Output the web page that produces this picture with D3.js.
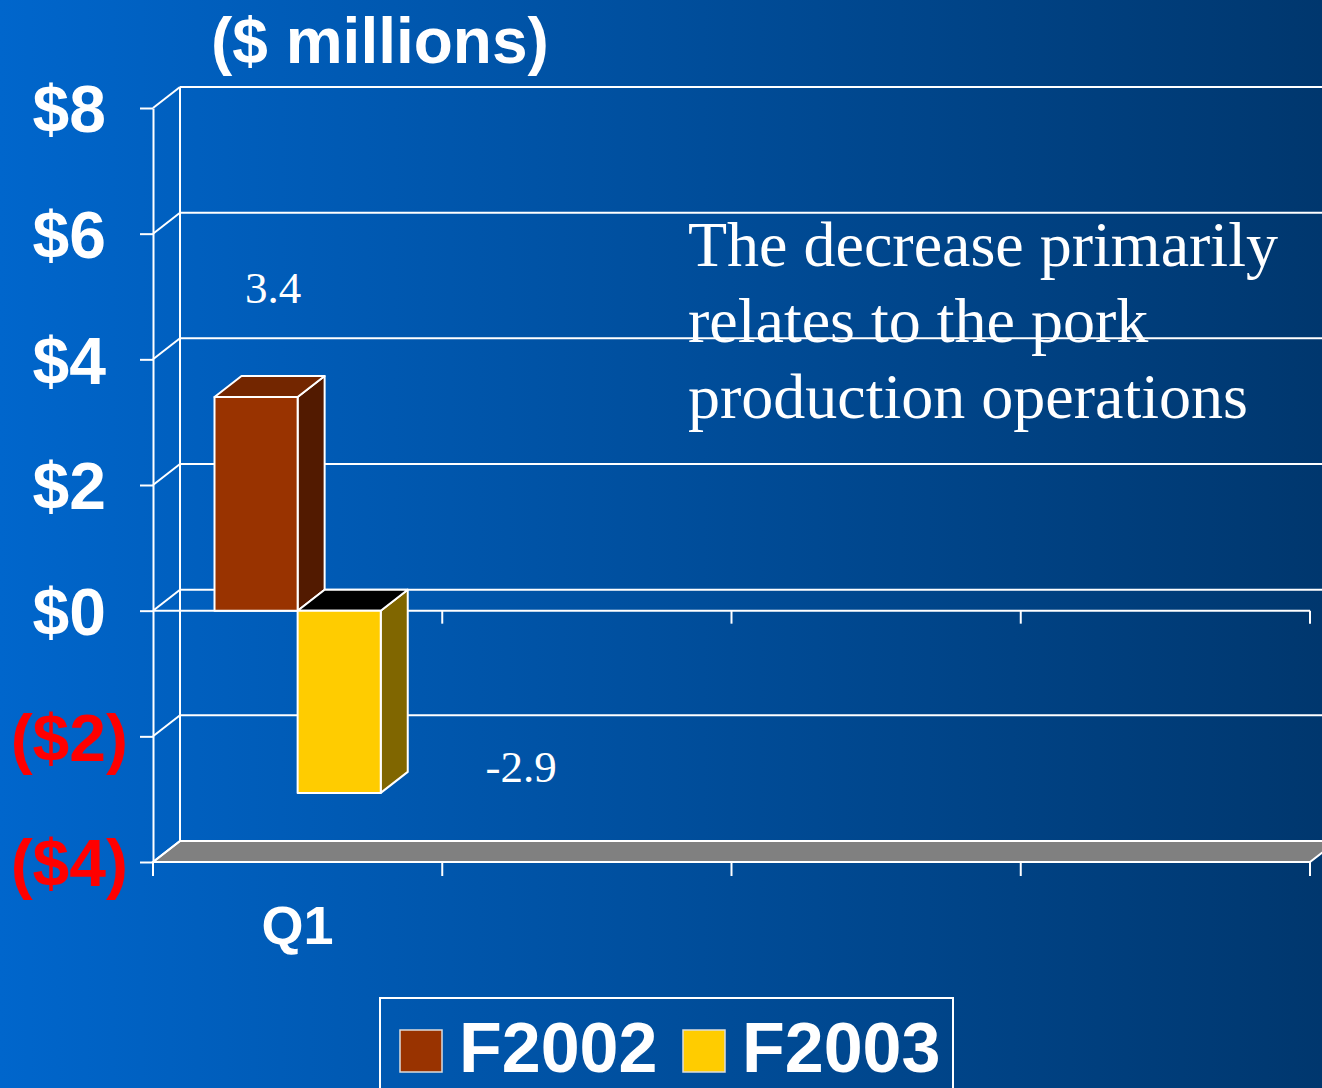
<!DOCTYPE html>
<html>
<head>
<meta charset="utf-8">
<script src="https://cdn.jsdelivr.net/npm/d3@7"></script>
<style>
  html, body { margin: 0; padding: 0; overflow: hidden; }
  svg { display: block; }
</style>
</head>
<body>
<svg id="svg"></svg>
<script>
var width = 1322;
var height = 1088;

// data
const categories = ["Q1", "Q2", "Q3", "Q4"];
const categoryLabels = ["Q1", "", "", ""];
const seriesNames = ["F2002", "F2003"];
const f2002 = [3.4, null, null, null];
const f2003 = [-2.9, null, null, null];
const tickValues = [-4, -2, 0, 2, 4, 6, 8];
const tickLabels = ["($4)", "($2)", "$0", "$2", "$4", "$6", "$8"];
const noteLines = ["The decrease primarily", "relates to the pork", "production operations"];

const seriesValues = [f2002, f2003];
const frontColor = ["#993300", "#ffcc00"];
const sideColor = ["#521a00", "#806600"];
const topColor = ["#732600", "#000000"];

// 3d depth offset
const dx = 27, dy = -21;

var svg = d3.select("#svg")
    .attr("width", width)
    .attr("height", height)
    .attr("viewBox", [0, 0, width, height]);

var defs = svg.append("defs");
var grad = defs.append("linearGradient").attr("id", "bg")
    .attr("x1", "0%").attr("x2", "100%").attr("y1", "0%").attr("y2", "0%");
grad.append("stop").attr("offset", "0%").attr("stop-color", "#0066cc");
grad.append("stop").attr("offset", "100%").attr("stop-color", "#00376e");

svg.append("rect").attr("width", width).attr("height", height).attr("fill", "url(#bg)");

var y = d3.scaleLinear().domain([-4, 8]).range([862, 108]);
var x = d3.scaleBand().domain(categories).range([153, 1310]);
var x1 = d3.scaleBand().domain(seriesNames).range([0, x.bandwidth()]).paddingInner(0).paddingOuter(0.74);

var frame = svg.append("g").attr("stroke", "#fff").attr("stroke-width", 2).attr("fill", "none");

// floor
var yb = y(-4);
frame.append("polygon")
    .attr("points", [[x.range()[0], yb], [x.range()[1], yb], [x.range()[1] + dx, yb + dy], [x.range()[0] + dx, yb + dy]].join(" "))
    .attr("fill", "#808080");

// back wall gridlines
frame.selectAll(".grid")
  .data(tickValues.filter(d => d !== -4))
  .join("line")
    .attr("x1", x.range()[0] + dx).attr("x2", x.range()[1] + dx)
    .attr("y1", d => y(d) + dy).attr("y2", d => y(d) + dy);

// back wall left edge
frame.append("line")
    .attr("x1", x.range()[0] + dx).attr("x2", x.range()[0] + dx)
    .attr("y1", y(8) + dy).attr("y2", y(-4) + dy);

// side wall diagonals
frame.selectAll(".diag")
  .data(tickValues)
  .join("line")
    .attr("x1", x.range()[0]).attr("x2", x.range()[0] + dx)
    .attr("y1", d => y(d)).attr("y2", d => y(d) + dy);

// front value axis
var yAxis = svg.append("g")
    .attr("transform", `translate(${x.range()[0]},0)`)
    .call(d3.axisLeft(y).tickValues(tickValues).tickSizeInner(13).tickSizeOuter(0).tickPadding(12));
yAxis.select(".domain").attr("stroke", "#fff").attr("stroke-width", 2);
yAxis.selectAll(".tick line").attr("stroke", "#fff").attr("stroke-width", 2);
yAxis.selectAll(".tick text")
    .attr("font-family", "Liberation Sans, Arial, sans-serif")
    .attr("font-weight", "bold")
    .attr("font-size", 66)
    .attr("dy", "0.36em")
    .attr("fill", (d, i) => tickValues[i] < 0 ? "#ff0000" : "#fff")
    .text(null)
    .each(function(d, i) {
      var t = d3.select(this);
      var lab = tickLabels[i];
      t.append("tspan").text(lab);
      if (!lab.endsWith(")")) t.append("tspan").attr("fill-opacity", 0).text(")");
    });

// category axis on floor front + zero line
var cats = svg.append("g").attr("stroke", "#fff").attr("stroke-width", 2);
cats.append("line")
    .attr("x1", x.range()[0]).attr("x2", x.range()[1])
    .attr("y1", y(-4)).attr("y2", y(-4));
cats.append("line")
    .attr("x1", x.range()[0]).attr("x2", x.range()[1])
    .attr("y1", y(0)).attr("y2", y(0));
var bounds = categories.map(c => x(c)).concat([x.range()[1]]);
cats.selectAll(".ctick")
  .data(bounds)
  .join("line")
    .attr("x1", d => d).attr("x2", d => d)
    .attr("y1", y(-4)).attr("y2", y(-4) + 14);
cats.selectAll(".ztick")
  .data(bounds.slice(1))
  .join("line")
    .attr("x1", d => d).attr("x2", d => d)
    .attr("y1", y(0)).attr("y2", y(0) + 13);

svg.append("g")
  .selectAll("text")
  .data(categories)
  .join("text")
    .attr("x", d => x(d) + x.bandwidth() / 2)
    .attr("y", 944)
    .attr("text-anchor", "middle")
    .attr("font-family", "Liberation Sans, Arial, sans-serif")
    .attr("font-weight", "bold")
    .attr("font-size", 54)
    .attr("fill", "#fff")
    .text((d, i) => categoryLabels[i]);

// bars
var barData = [];
seriesNames.forEach((s, si) => {
  categories.forEach((c, ci) => {
    var v = seriesValues[si][ci];
    if (v !== null) barData.push({series: s, si: si, cat: c, value: v});
  });
});

var bars = svg.append("g")
    .attr("stroke", "#fff").attr("stroke-width", 2).attr("stroke-linejoin", "round")
  .selectAll("g")
  .data(barData)
  .join("g");

bars.each(function(d) {
  var g = d3.select(this);
  var x0 = x(d.cat) + x1(d.series);
  var w = x1.bandwidth();
  var yt = y(Math.max(d.value, 0));
  var ybt = y(Math.min(d.value, 0));
  g.append("polygon")
      .attr("points", [[x0 + w, yt], [x0 + w + dx, yt + dy], [x0 + w + dx, ybt + dy], [x0 + w, ybt]].join(" "))
      .attr("fill", sideColor[d.si]);
  g.append("polygon")
      .attr("points", [[x0, yt], [x0 + dx, yt + dy], [x0 + w + dx, yt + dy], [x0 + w, yt]].join(" "))
      .attr("fill", topColor[d.si]);
  g.append("rect")
      .attr("x", x0).attr("y", yt)
      .attr("width", w).attr("height", ybt - yt)
      .attr("fill", frontColor[d.si]);
});

// data labels (moved by hand in the original)
const labelShift = [[17, -94], [182, -11]];
svg.append("g")
  .selectAll("text")
  .data(barData)
  .join("text")
    .attr("x", d => x(d.cat) + x1(d.series) + x1.bandwidth() / 2 + labelShift[d.si][0])
    .attr("y", d => y(d.value) + labelShift[d.si][1])
    .attr("text-anchor", "middle")
    .attr("font-family", "Liberation Serif, Times New Roman, serif")
    .attr("font-size", 45)
    .attr("fill", "#fff")
    .text(d => d.value.toFixed(1));

// note
svg.append("text")
    .attr("font-family", "Liberation Serif, Times New Roman, serif")
    .attr("font-size", 64)
    .attr("fill", "#fff")
  .selectAll("tspan")
  .data(noteLines)
  .join("tspan")
    .attr("x", 688)
    .attr("y", (d, i) => 266 + i * 76)
    .text(d => d);

// title
svg.append("text")
    .attr("x", 211).attr("y", 63)
    .attr("font-family", "Liberation Sans, Arial, sans-serif")
    .attr("font-weight", "bold")
    .attr("font-size", 64)
    .attr("fill", "#fff")
    .text("($ millions)");

// legend
var legend = svg.append("g");
legend.append("rect")
    .attr("x", 380).attr("y", 998).attr("width", 573).attr("height", 130)
    .attr("fill", "none").attr("stroke", "#fff").attr("stroke-width", 2);
const legendX = [400, 683];
seriesNames.forEach((s, i) => {
  legend.append("rect")
      .attr("x", legendX[i]).attr("y", 1030).attr("width", 42).attr("height", 42)
      .attr("fill", frontColor[i]).attr("stroke", "#ddd").attr("stroke-width", 1.5);
  legend.append("text")
      .attr("x", legendX[i] + 59).attr("y", 1072)
      .attr("font-family", "Liberation Sans, Arial, sans-serif")
      .attr("font-weight", "bold")
      .attr("font-size", 70)
      .attr("fill", "#fff")
      .text(s);
});
</script>
</body>
</html>
